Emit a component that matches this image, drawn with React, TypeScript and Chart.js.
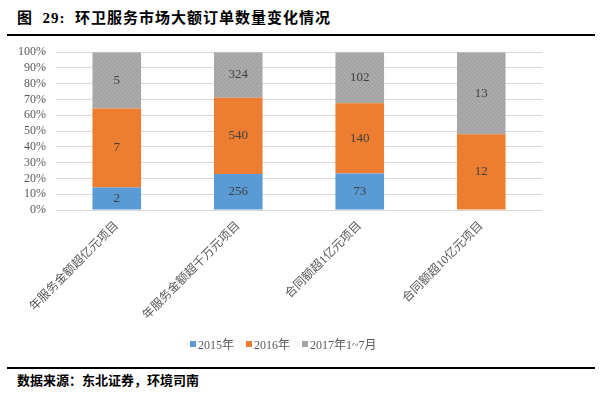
import React, { useEffect, useRef } from "react";
import { Chart, registerables } from "chart.js";

Chart.register(...registerables);

const categories = ["年服务金额超亿元项目", "年服务金额超千万元项目", "合同额超1亿元项目", "合同额超10亿元项目"];
const seriesNames = ["2015年", "2016年", "2017年1~7月"];
const values2015 = [2, 256, 73, 0];
const values2016 = [7, 540, 140, 12];
const values2017 = [5, 324, 102, 13];
const colors = ["#5b9bd5", "#ed7d31", "#a5a5a5"];
const yTicks = [0, 10, 20, 30, 40, 50, 60, 70, 80, 90, 100];

const SERIF = '"Liberation Serif", "Times New Roman", "Noto Sans CJK SC", serif';

function makeGrayPattern(): CanvasPattern | string {
  const c = document.createElement("canvas");
  c.width = 4;
  c.height = 4;
  const ctx = c.getContext("2d");
  if (!ctx) return colors[2];
  ctx.fillStyle = "#a8a8a8";
  ctx.fillRect(0, 0, 4, 4);
  ctx.fillStyle = "#9a9a9a";
  ctx.fillRect(0, 0, 1, 1);
  ctx.fillRect(2, 2, 1, 1);
  ctx.fillStyle = "#b2b2b2";
  ctx.fillRect(2, 0, 1, 1);
  ctx.fillRect(0, 2, 1, 1);
  const p = ctx.createPattern(c, "repeat");
  return p || colors[2];
}

const valueLabels = {
  id: "valueLabels",
  afterDatasetsDraw(chart: any) {
    const ctx = chart.ctx;
    ctx.save();
    ctx.font = "13px " + SERIF;
    ctx.fillStyle = "#404040";
    ctx.textAlign = "center";
    ctx.textBaseline = "middle";
    chart.data.datasets.forEach((ds: any, di: number) => {
      const meta = chart.getDatasetMeta(di);
      meta.data.forEach((bar: any, i: number) => {
        const raw = ds.rawValues[i];
        if (!raw) return;
        const { x, y, base } = bar.getProps(["x", "y", "base"], true);
        ctx.fillText(String(raw), x, (y + base) / 2);
      });
    });
    ctx.restore();
  },
};

export default function App() {
  const ref = useRef<HTMLCanvasElement>(null);
  useEffect(() => {
    if (!ref.current) return;
    const totals = categories.map((_, i) => values2015[i] + values2016[i] + values2017[i]);
    const pct = (arr: number[]) => arr.map((v, i) => (v / totals[i]) * 100);
    const raws = [values2015, values2016, values2017];
    const chart = new Chart(ref.current, {
      type: "bar",
      data: {
        labels: categories,
        datasets: raws.map((arr, k) => ({
          label: seriesNames[k],
          data: pct(arr),
          rawValues: arr,
          backgroundColor: k === 2 ? makeGrayPattern() : colors[k],
          borderWidth: 0,
          barPercentage: 0.4,
          categoryPercentage: 1,
        })) as any,
      },
      options: {
        animation: false,
        responsive: false,
        maintainAspectRatio: false,
        layout: { padding: { top: 2, right: 59, left: 0, bottom: 0 } },
        plugins: {
          legend: { display: false },
          tooltip: { enabled: false },
          title: { display: false },
        },
        scales: {
          x: {
            stacked: true,
            grid: { display: false, drawTicks: false },
            border: { display: false },
            ticks: {
              maxRotation: 45,
              minRotation: 45,
              autoSkip: false,
              color: "#595959",
              font: { family: SERIF, size: 12 },
              padding: 9,
            },
            afterFit(scale: any) {
              scale.height = 150;
            },
          },
          y: {
            stacked: true,
            min: 0,
            max: 100,
            grid: { color: "#d9d9d9", drawTicks: false, lineWidth: 1 },
            border: { display: false },
            afterBuildTicks(scale: any) {
              scale.ticks = yTicks.map((v) => ({ value: v }));
            },
            ticks: {
              autoSkip: false,
              color: "#595959",
              font: { family: SERIF, size: 12 },
              padding: 10,
              callback: (v: any) => v + "%",
            },
            afterFit(scale: any) {
              scale.width = 56;
            },
          },
        },
      },
      plugins: [valueLabels],
    });
    return () => chart.destroy();
  }, []);

  const legendItem = (name: string, color: string) => (
    <span key={name} style={{ display: "inline-flex", alignItems: "center", marginRight: 12 }}>
      <span style={{ display: "inline-block", width: 6, height: 6, background: color, marginRight: 2 }} />
      <span>{name}</span>
    </span>
  );

  return (
    <div style={{ position: "fixed", left: 0, top: 0, width: 601, height: 393, background: "#fff", overflow: "hidden" }}>
      <canvas ref={ref} width={601} height={325} style={{ position: "absolute", left: 0, top: 35 }} />
      <div
        style={{
          position: "absolute",
          left: 17,
          top: 6,
          fontFamily: SERIF,
          fontWeight: "bold",
          fontSize: 15,
          letterSpacing: 1,
          color: "#000",
          whiteSpace: "nowrap",
        }}
      >
        图&nbsp; 29:&nbsp; 环卫服务市场大额订单数量变化情况
      </div>
      <div style={{ position: "absolute", left: 7, top: 34, width: 588, height: 1.5, background: "#000" }} />
      <div
        style={{
          position: "absolute",
          left: 190,
          top: 335,
          fontFamily: SERIF,
          fontSize: 12,
          color: "#595959",
          whiteSpace: "nowrap",
          display: "flex",
        }}
      >
        {seriesNames.map((n, k) => legendItem(n, colors[k]))}
      </div>
      <div style={{ position: "absolute", left: 7, top: 367, width: 588, height: 1.5, background: "#000" }} />
      <div
        style={{
          position: "absolute",
          left: 17,
          top: 370,
          fontFamily: SERIF,
          fontWeight: "bold",
          fontSize: 13,
          color: "#000",
          whiteSpace: "nowrap",
        }}
      >
        数据来源：东北证券，环境司南
      </div>
    </div>
  );
}
